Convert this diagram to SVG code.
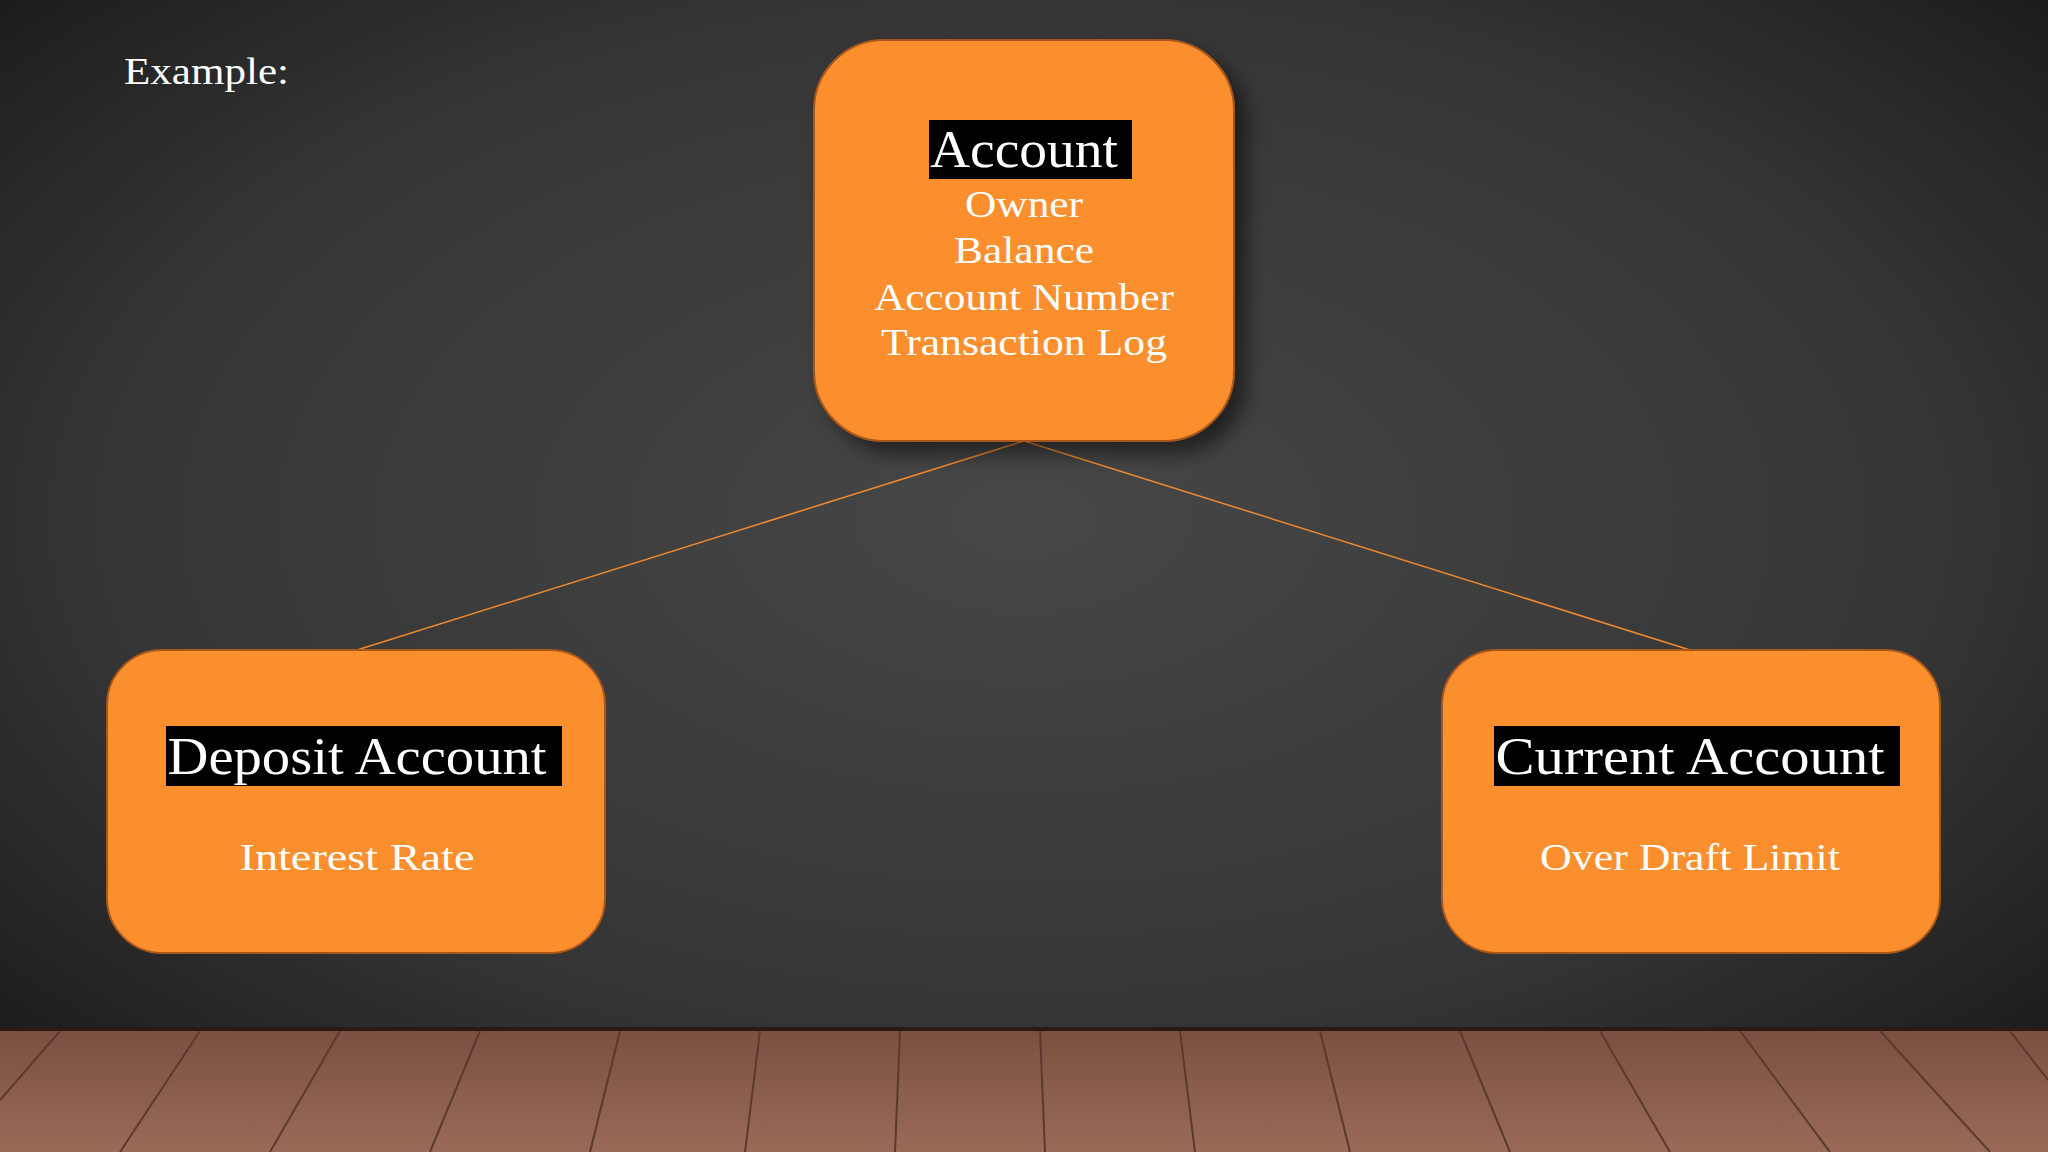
<svg xmlns="http://www.w3.org/2000/svg" width="2048" height="1152" viewBox="0 0 2048 1152">
<defs>
<radialGradient id="bg" cx="0.5" cy="0.45" r="0.75">
<stop offset="0" stop-color="#474747"/><stop offset="0.6" stop-color="#353535"/><stop offset="1" stop-color="#141414"/>
</radialGradient>
<linearGradient id="floor" x1="0" y1="0" x2="0" y2="1">
<stop offset="0" stop-color="#7a5040"/><stop offset="1" stop-color="#9a6a58"/>
</linearGradient>
<filter id="sh" x="-20%" y="-20%" width="150%" height="150%"><feDropShadow dx="12" dy="12" stdDeviation="10" flood-color="#000" flood-opacity="0.5"/></filter>
<style>
.node{fill:#fb8f2d;stroke:#a9561a;stroke-width:2}
.t{font-family:"Liberation Serif",serif;fill:#fff;text-anchor:middle}
.hl{fill:#000}
.conn{stroke:#f08a30;stroke-width:1.5;fill:none}
</style>
</defs>
<rect width="2048" height="1152" fill="url(#bg)"/>
<g id="floor">
<rect y="1029" width="2048" height="123" fill="url(#floor)"/>
<rect y="1027" width="2048" height="4" fill="#2a1a14"/>
<g stroke="#5a3a2e" stroke-width="2">
<line x1="60" y1="1031" x2="0" y2="1100"/><line x1="200" y1="1031" x2="120" y2="1152"/><line x1="340" y1="1031" x2="270" y2="1152"/><line x1="480" y1="1031" x2="430" y2="1152"/><line x1="620" y1="1031" x2="590" y2="1152"/><line x1="760" y1="1031" x2="745" y2="1152"/><line x1="900" y1="1031" x2="895" y2="1152"/><line x1="1040" y1="1031" x2="1045" y2="1152"/><line x1="1180" y1="1031" x2="1195" y2="1152"/><line x1="1320" y1="1031" x2="1350" y2="1152"/><line x1="1460" y1="1031" x2="1510" y2="1152"/><line x1="1600" y1="1031" x2="1670" y2="1152"/><line x1="1740" y1="1031" x2="1830" y2="1152"/><line x1="1880" y1="1031" x2="1990" y2="1152"/><line x1="2010" y1="1031" x2="2048" y2="1080"/>
</g>
</g>
<text class="t" x="124" y="84" style="text-anchor:start" font-size="38" textLength="165" lengthAdjust="spacingAndGlyphs">Example:</text>
<g id="connectors">
<line class="conn" x1="1024" y1="441" x2="357" y2="650"/>
<line class="conn" x1="1024" y1="441" x2="1690" y2="650"/>
</g>
<g id="account">
<rect class="node" x="814" y="40" width="420" height="401" rx="70" filter="url(#sh)" stroke="#ffb020" stroke-width="3"/>
<rect class="hl" x="929" y="120" width="203" height="59"/>
<text class="t" x="1024" y="167" font-size="52" textLength="188" lengthAdjust="spacingAndGlyphs">Account</text>
<text class="t" x="1024" y="217" font-size="38" textLength="118" lengthAdjust="spacingAndGlyphs">Owner</text>
<text class="t" x="1024" y="263" font-size="38" textLength="140" lengthAdjust="spacingAndGlyphs">Balance</text>
<text class="t" x="1024" y="310" font-size="38" textLength="300" lengthAdjust="spacingAndGlyphs">Account Number</text>
<text class="t" x="1024" y="355" font-size="38" textLength="286" lengthAdjust="spacingAndGlyphs">Transaction Log</text>
</g>
<g id="deposit">
<rect class="node" x="107" y="650" width="498" height="303" rx="55"/>
<rect class="hl" x="166" y="726" width="396" height="60"/>
<text class="t" x="357" y="774" font-size="52" textLength="379" lengthAdjust="spacingAndGlyphs">Deposit Account</text>
<text class="t" x="357" y="870" font-size="38" textLength="235" lengthAdjust="spacingAndGlyphs">Interest Rate</text>
</g>
<g id="current">
<rect class="node" x="1442" y="650" width="498" height="303" rx="55"/>
<rect class="hl" x="1494" y="726" width="406" height="60"/>
<text class="t" x="1690" y="774" font-size="52" textLength="389" lengthAdjust="spacingAndGlyphs">Current Account</text>
<text class="t" x="1690" y="870" font-size="38" textLength="300" lengthAdjust="spacingAndGlyphs">Over Draft Limit</text>
</g>
</svg>
